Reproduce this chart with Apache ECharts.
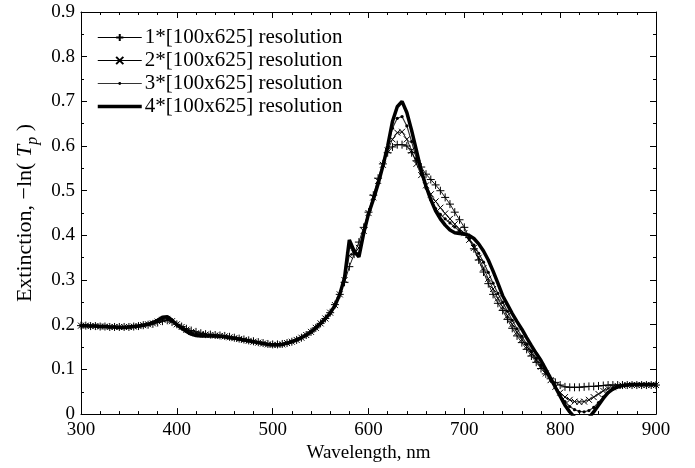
<!DOCTYPE html>
<html>

<head>
    <meta charset="UTF-8" />
    <title>Extinction spectra</title>
    <script src="https://cdn.jsdelivr.net/npm/echarts@6/dist/echarts.min.js"></script>
    <style>
        html, body {
            margin: 0;
            padding: 0;
            background: #fff;
        }

        #chart {
            width: 695px;
            height: 468px;
        }
    </style>
</head>

<body>
    <div id="chart"></div>
</body>
<script type="text/javascript">
    // wavelength samples, nm
    var wavelength = [
        300, 305, 310, 315, 320, 325, 330, 335, 340, 345,
        350, 355, 360, 365, 370, 375, 380, 385, 390, 395,
        400, 405, 410, 415, 420, 425, 430, 435, 440, 445,
        450, 455, 460, 465, 470, 475, 480, 485, 490, 495,
        500, 505, 510, 515, 520, 525, 530, 535, 540, 545,
        550, 555, 560, 565, 570, 575, 580, 585, 590, 595,
        600, 605, 610, 615, 620, 625, 630, 635, 640, 645,
        650, 655, 660, 665, 670, 675, 680, 685, 690, 695,
        700, 705, 710, 715, 720, 725, 730, 735, 740, 745,
        750, 755, 760, 765, 770, 775, 780, 785, 790, 795,
        800, 805, 810, 815, 820, 825, 830, 835, 840, 845,
        850, 855, 860, 865, 870, 875, 880, 885, 890, 895,
        900
    ];
    // 1*[100x625] resolution
    var res1 = [
        0.198, 0.198, 0.197, 0.197, 0.196, 0.196, 0.195, 0.195, 0.195, 0.195,
        0.195, 0.196, 0.197, 0.199, 0.200, 0.202, 0.205, 0.208, 0.210, 0.206,
        0.201, 0.196, 0.191, 0.187, 0.184, 0.181, 0.179, 0.178, 0.177, 0.176,
        0.175, 0.173, 0.171, 0.169, 0.167, 0.165, 0.163, 0.161, 0.159, 0.157,
        0.156, 0.156, 0.157, 0.159, 0.162, 0.166, 0.171, 0.177, 0.184, 0.193,
        0.203, 0.214, 0.227, 0.245, 0.268, 0.295, 0.330, 0.358, 0.385, 0.418,
        0.452, 0.490, 0.528, 0.560, 0.585, 0.598, 0.603, 0.603, 0.600, 0.585,
        0.567, 0.553, 0.537, 0.525, 0.513, 0.500, 0.485, 0.470, 0.452, 0.435,
        0.418, 0.395, 0.370, 0.345, 0.318, 0.292, 0.268, 0.248, 0.232, 0.212,
        0.192, 0.175, 0.160, 0.145, 0.130, 0.116, 0.102, 0.090, 0.079, 0.071,
        0.065, 0.061, 0.060, 0.060, 0.060, 0.061, 0.062, 0.062, 0.063, 0.064,
        0.065, 0.065, 0.065, 0.065, 0.065, 0.065, 0.065, 0.065, 0.065, 0.065,
        0.065
    ];
    // 2*[100x625] resolution
    var res2 = [
        0.198, 0.198, 0.197, 0.197, 0.196, 0.196, 0.195, 0.195, 0.195, 0.195,
        0.195, 0.196, 0.197, 0.199, 0.201, 0.203, 0.207, 0.211, 0.213, 0.208,
        0.201, 0.195, 0.189, 0.184, 0.181, 0.179, 0.178, 0.177, 0.176, 0.175,
        0.174, 0.172, 0.170, 0.168, 0.166, 0.164, 0.162, 0.160, 0.158, 0.156,
        0.155, 0.155, 0.156, 0.159, 0.162, 0.166, 0.171, 0.177, 0.184, 0.193,
        0.203, 0.214, 0.227, 0.244, 0.268, 0.300, 0.355, 0.360, 0.372, 0.410,
        0.450, 0.485, 0.522, 0.558, 0.590, 0.615, 0.630, 0.632, 0.615, 0.590,
        0.560, 0.535, 0.512, 0.492, 0.476, 0.462, 0.449, 0.437, 0.425, 0.414,
        0.405, 0.390, 0.372, 0.350, 0.327, 0.303, 0.280, 0.259, 0.240, 0.220,
        0.201, 0.183, 0.167, 0.151, 0.136, 0.121, 0.106, 0.091, 0.076, 0.061,
        0.048, 0.038, 0.032, 0.028, 0.027, 0.028, 0.032, 0.038, 0.045, 0.052,
        0.057, 0.060, 0.063, 0.064, 0.065, 0.065, 0.065, 0.065, 0.065, 0.065,
        0.065
    ];
    // 3*[100x625] resolution
    var res3 = [
        0.198, 0.198, 0.197, 0.197, 0.196, 0.196, 0.195, 0.195, 0.194, 0.194,
        0.195, 0.196, 0.197, 0.199, 0.201, 0.204, 0.209, 0.214, 0.215, 0.209,
        0.200, 0.193, 0.187, 0.182, 0.178, 0.177, 0.176, 0.176, 0.175, 0.174,
        0.173, 0.171, 0.170, 0.168, 0.166, 0.164, 0.162, 0.160, 0.158, 0.156,
        0.155, 0.155, 0.156, 0.159, 0.162, 0.166, 0.171, 0.177, 0.184, 0.193,
        0.203, 0.214, 0.226, 0.243, 0.268, 0.303, 0.375, 0.362, 0.360, 0.408,
        0.449, 0.482, 0.518, 0.556, 0.597, 0.640, 0.662, 0.666, 0.645, 0.610,
        0.572, 0.537, 0.506, 0.480, 0.460, 0.447, 0.437, 0.428, 0.419, 0.410,
        0.402, 0.392, 0.378, 0.360, 0.340, 0.317, 0.293, 0.270, 0.250, 0.230,
        0.210, 0.191, 0.174, 0.157, 0.141, 0.125, 0.110, 0.094, 0.077, 0.060,
        0.043, 0.028, 0.017, 0.010, 0.006, 0.005, 0.008, 0.015, 0.026, 0.038,
        0.048, 0.056, 0.061, 0.064, 0.065, 0.065, 0.065, 0.065, 0.065, 0.065,
        0.065
    ];
    // 4*[100x625] resolution
    var res4 = [
        0.198, 0.198, 0.197, 0.197, 0.196, 0.196, 0.195, 0.195, 0.194, 0.194,
        0.195, 0.196, 0.197, 0.199, 0.201, 0.205, 0.210, 0.217, 0.218, 0.210,
        0.200, 0.192, 0.185, 0.179, 0.176, 0.175, 0.175, 0.175, 0.175, 0.174,
        0.173, 0.171, 0.170, 0.168, 0.166, 0.164, 0.162, 0.160, 0.158, 0.156,
        0.155, 0.155, 0.156, 0.159, 0.162, 0.166, 0.171, 0.177, 0.184, 0.193,
        0.203, 0.214, 0.226, 0.243, 0.268, 0.305, 0.390, 0.365, 0.352, 0.405,
        0.448, 0.480, 0.515, 0.555, 0.600, 0.655, 0.688, 0.700, 0.675, 0.635,
        0.590, 0.545, 0.510, 0.480, 0.455, 0.437, 0.423, 0.412, 0.406, 0.404,
        0.403, 0.400, 0.393, 0.381, 0.365, 0.345, 0.320, 0.293, 0.265, 0.245,
        0.225, 0.207, 0.190, 0.171, 0.153, 0.136, 0.120, 0.100, 0.080, 0.060,
        0.040, 0.020, 0.005, -0.007, -0.015, -0.015, -0.008, 0.005, 0.020, 0.035,
        0.048, 0.056, 0.061, 0.064, 0.065, 0.066, 0.066, 0.066, 0.066, 0.066,
        0.066
    ];
    var seriesNames = [
        '1*[100x625] resolution',
        '2*[100x625] resolution',
        '3*[100x625] resolution',
        '4*[100x625] resolution'
    ];

    var serif = 'Liberation Serif, Times New Roman, serif';
    var plusPath = 'path://M5,0L5,10M0,5L10,5';
    var crossPath = 'path://M0,0L10,10M0,10L10,0';
    // small dot inside a 10x10 box, so legend and line dots stay small
    var dotPath = 'path://M0,0M10,10M3,5A2,2,0,1,0,7,5A2,2,0,1,0,3,5Z';

    function pairs(ys) {
        var out = [];
        for (var i = 0; i < wavelength.length; i++) {
            out.push([wavelength[i], ys[i]]);
        }
        return out;
    }

    // 坐标轴：主轴带刻度值，镜像轴只画刻度
    function xAxisCfg(pos, labels) {
        return {
            type: 'value',
            position: pos,
            min: 300,
            max: 900,
            interval: 100,
            name: labels ? 'Wavelength, nm' : '',
            nameLocation: 'middle',
            nameGap: 27,
            nameTextStyle: { color: '#000', fontFamily: serif, fontSize: 19 },
            axisLine: { onZero: false, lineStyle: { color: '#000', width: 1 } },
            axisTick: { inside: true, length: 6, lineStyle: { color: '#000' } },
            minorTick: { show: true, splitNumber: 5, length: 3, lineStyle: { color: '#000' } },
            axisLabel: { show: labels, color: '#000', fontFamily: serif, fontSize: 19, margin: 6 },
            splitLine: { show: false }
        };
    }

    function yAxisCfg(pos, labels) {
        return {
            type: 'value',
            position: pos,
            min: 0,
            max: 0.9,
            interval: 0.1,
            name: labels ? '{n|Extinction, \u2212ln( }{i|T}{s|p}{n| )}' : '',
            nameLocation: 'middle',
            nameGap: 38,
            nameTextStyle: {
                color: '#000',
                rich: {
                    n: { fontFamily: serif, fontSize: 22, color: '#000', lineHeight: 30, verticalAlign: 'middle' },
                    i: { fontFamily: serif, fontSize: 22, color: '#000', fontStyle: 'italic', lineHeight: 30, verticalAlign: 'middle' },
                    s: { fontFamily: serif, fontSize: 16, color: '#000', fontStyle: 'italic', lineHeight: 30, verticalAlign: 'bottom' }
                }
            },
            axisLine: { onZero: false, lineStyle: { color: '#000', width: 1 } },
            axisTick: { inside: true, length: 6, lineStyle: { color: '#000' } },
            minorTick: { show: true, splitNumber: 2, length: 3, lineStyle: { color: '#000' } },
            axisLabel: { show: labels, color: '#000', fontFamily: serif, fontSize: 19, margin: 6 },
            splitLine: { show: false }
        };
    }

    var chart = echarts.init(document.getElementById('chart'));
    var option = {
        animation: false,
        backgroundColor: '#fff',
        grid: { left: 81, right: 39, top: 12, bottom: 48 },
        legend: {
            orient: 'vertical',
            left: 91,
            top: 22,
            itemWidth: 44,
            itemHeight: 9,
            itemGap: 2,
            textStyle: { color: '#000', fontFamily: serif, fontSize: 21, padding: [0, 0, 0, -2] },
            data: [
                { name: seriesNames[0], lineStyle: { width: 1 } },
                { name: seriesNames[1], lineStyle: { width: 1 } },
                { name: seriesNames[2], lineStyle: { width: 1.2 } },
                { name: seriesNames[3], lineStyle: { width: 3.5 }, itemStyle: { opacity: 0 } }
            ]
        },
        xAxis: [xAxisCfg('bottom', true), xAxisCfg('top', false)],
        yAxis: [yAxisCfg('left', true), yAxisCfg('right', false)],
        series: [
            {
                name: seriesNames[0],
                type: 'line',
                data: pairs(res1),
                symbol: plusPath,
                symbolSize: 8,
                showAllSymbol: true,
                itemStyle: { color: 'transparent', borderColor: '#000', borderWidth: 1 },
                lineStyle: { color: '#000', width: 0.9 }
            },
            {
                name: seriesNames[1],
                type: 'line',
                data: pairs(res2),
                symbol: crossPath,
                symbolSize: 6,
                showAllSymbol: true,
                itemStyle: { color: 'transparent', borderColor: '#000', borderWidth: 1 },
                lineStyle: { color: '#000', width: 0.9 }
            },
            {
                name: seriesNames[2],
                type: 'line',
                data: pairs(res3),
                symbol: dotPath,
                symbolSize: 8,
                showAllSymbol: true,
                itemStyle: { color: '#000', borderWidth: 0 },
                lineStyle: { color: '#333', width: 1.2 }
            },
            {
                name: seriesNames[3],
                type: 'line',
                data: pairs(res4),
                symbol: 'none',
                itemStyle: { color: '#000' },
                lineStyle: { color: '#000', width: 3.5 }
            }
        ]
    };
    chart.setOption(option);
</script>

</html>
